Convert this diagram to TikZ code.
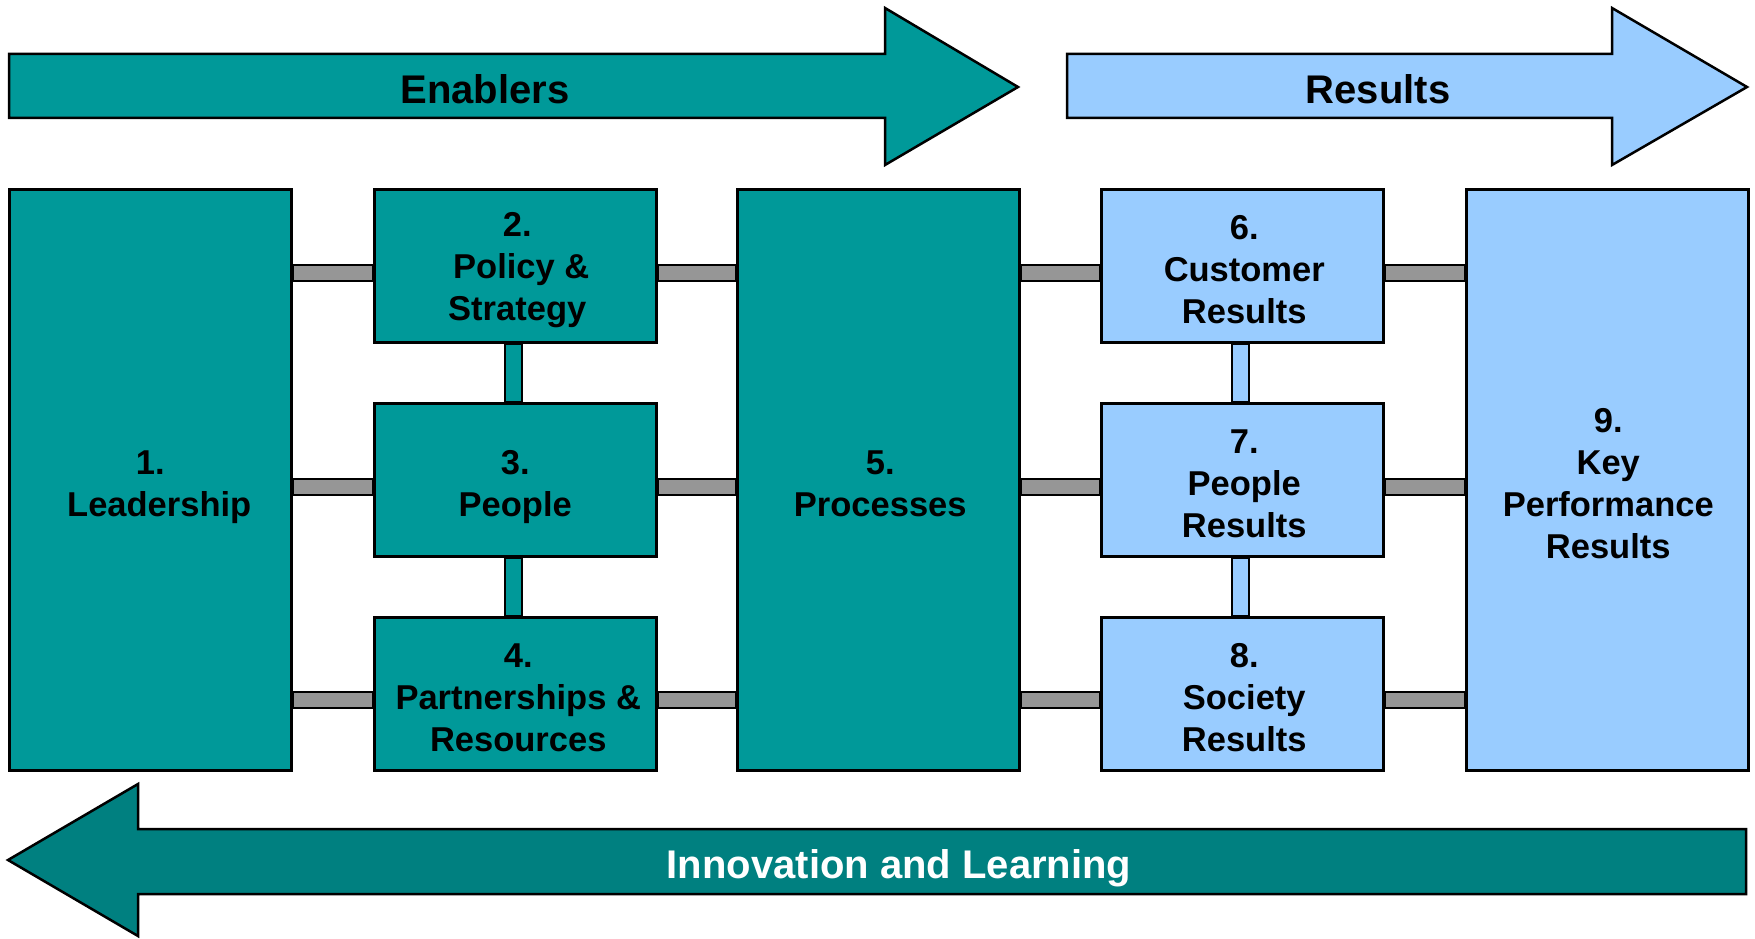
\documentclass[tikz,border=0pt]{standalone}
\usepackage{fontspec}
\setmainfont{Liberation Sans}
\usetikzlibrary{backgrounds}
\definecolor{tealA}{HTML}{009999}
\definecolor{lblue}{HTML}{99CCFF}
\definecolor{dteal}{HTML}{008080}
\definecolor{bargray}{HTML}{969696}
\begin{document}
\begin{tikzpicture}[x=1pt,y=-1pt,
  txt/.style={font=\bfseries\fontsize{34.5}{42}\selectfont,align=center,inner sep=0pt},
  bigtxt/.style={font=\bfseries\fontsize{40}{48}\selectfont,inner sep=0pt},
  box/.style={draw=black,line width=2.5pt,anchor=north west,inner sep=0pt},
  boxtxt/.style={txt,yshift=-4pt},
  encol/.style={fill=tealA},
  recol/.style={fill=lblue},
  tall/.style={minimum width=282pt,minimum height=581pt},
  small/.style={minimum width=282pt,minimum height=153pt},
  hbar/.style={fill=bargray,draw=black,line width=2pt},
  arrowshape/.style={draw=black,line width=2.5pt,line join=miter}
]
\useasboundingbox (0,0) rectangle (1755,939);

% top arrows
\filldraw[arrowshape,fill=tealA] (9,54) -- (885,54) -- (885,8) -- (1018,87) -- (885,165) -- (885,118) -- (9,118) -- cycle;
\filldraw[arrowshape,fill=lblue] (1067,54) -- (1612,54) -- (1612,8) -- (1747,87) -- (1612,165) -- (1612,118) -- (1067,118) -- cycle;
\node[bigtxt] (en) at (485,89) {Enablers};
\node[bigtxt] (re) at (1378,89) {Results};

% bottom arrow
\filldraw[arrowshape,fill=dteal] (8,860) -- (138,784) -- (138,829) -- (1746,829) -- (1746,894) -- (138,894) -- (138,936) -- cycle;
\node[bigtxt,text=white] (il) at (899,868) {Innovation and Learning};

% boxes
\node[box,encol,tall]  (b1) at (8,188)    {};
\node[box,encol,small] (b2) at (373,188)  {};
\node[box,encol,small] (b3) at (373,402)  {};
\node[box,encol,small] (b4) at (373,616)  {};
\node[box,encol,tall]  (b5) at (736,188)  {};
\node[box,recol,small] (b6) at (1100,188) {};
\node[box,recol,small] (b7) at (1100,402) {};
\node[box,recol,small] (b8) at (1100,616) {};
\node[box,recol,tall]  (b9) at (1465,188) {};

\node[boxtxt,yshift=-3pt] (t1) at (b1.center) {1.\\\hspace*{18pt}Leadership};
\node[boxtxt,xshift=2pt] (t2) at (b2.center) {2.\\\hspace*{8pt}Policy \&\\Strategy};
\node[boxtxt,yshift=-3pt] (t3) at (b3.center) {3.\\People};
\node[boxtxt,xshift=3pt] (t4) at (b4.center) {4.\\Partnerships \&\\Resources};
\node[boxtxt,xshift=2pt] (t5) at (b5.center) {5.\\Processes};
\node[boxtxt,xshift=2pt] (t6) at (b6.center) {6.\\Customer\\Results};
\node[boxtxt,xshift=2pt] (t7) at (b7.center) {7.\\People\\Results};
\node[boxtxt,xshift=2pt] (t8) at (b8.center) {8.\\Society\\Results};
\node[boxtxt,xshift=1pt] (t9) at (b9.center) {9.\\Key\\Performance\\Results};

\begin{scope}[on background layer]
  % row 1
  \filldraw[hbar] (b1.east |- 0,265) rectangle (b2.west |- 0,281);
  \filldraw[hbar] (b2.east |- 0,265) rectangle (b5.west |- 0,281);
  \filldraw[hbar] (b5.east |- 0,265) rectangle (b6.west |- 0,281);
  \filldraw[hbar] (b6.east |- 0,265) rectangle (b9.west |- 0,281);
  % row 2
  \filldraw[hbar] (b1.east |- 0,479) rectangle (b3.west |- 0,495);
  \filldraw[hbar] (b3.east |- 0,479) rectangle (b5.west |- 0,495);
  \filldraw[hbar] (b5.east |- 0,479) rectangle (b7.west |- 0,495);
  \filldraw[hbar] (b7.east |- 0,479) rectangle (b9.west |- 0,495);
  % row 3
  \filldraw[hbar] (b1.east |- 0,692) rectangle (b4.west |- 0,708);
  \filldraw[hbar] (b4.east |- 0,692) rectangle (b5.west |- 0,708);
  \filldraw[hbar] (b5.east |- 0,692) rectangle (b8.west |- 0,708);
  \filldraw[hbar] (b8.east |- 0,692) rectangle (b9.west |- 0,708);
  % vertical links
  \filldraw[hbar,fill=tealA] (505,0 |- b2.south) rectangle (522,0 |- b3.north);
  \filldraw[hbar,fill=tealA] (505,0 |- b3.south) rectangle (522,0 |- b4.north);
  \filldraw[hbar,fill=lblue] (1232,0 |- b6.south) rectangle (1249,0 |- b7.north);
  \filldraw[hbar,fill=lblue] (1232,0 |- b7.south) rectangle (1249,0 |- b8.north);
\end{scope}
\end{tikzpicture}
\end{document}
